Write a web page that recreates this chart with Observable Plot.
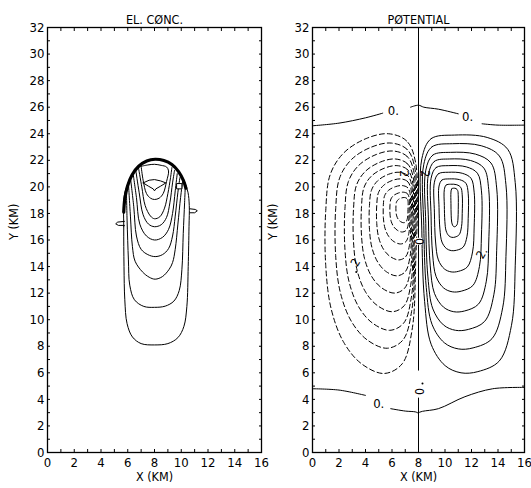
<!DOCTYPE html>
<html><head><meta charset="utf-8">
<script src="https://cdn.jsdelivr.net/npm/d3@7"></script>
<script src="https://cdn.jsdelivr.net/npm/@observablehq/plot@0.6"></script>
<style>
body{margin:0;background:#fff;}
#wrap{position:relative;width:531px;height:488px;overflow:hidden;}
#left,#right{position:absolute;top:0;}
#left{left:0;z-index:2;} #right{left:266px;}
svg{overflow:visible;}
</style></head><body><div id="wrap"><div id="left"></div><div id="right"></div></div>
<script>
// ---------- axis ticks ----------
const xTickLabels = [0,2,4,6,8,10,12,14,16];
const yTickLabels = [0,2,4,6,8,10,12,14,16,18,20,22,24,26,28,30,32];
const xMinor = [0,1,2,3,4,5,6,7,8,9,10,11,12,13,14,15,16];
const yMinor = [0,1,2,3,4,5,6,7,8,9,10,11,12,13,14,15,16,17,18,19,20,21,22,23,24,25,26,27,28,29,30,31,32];
const titles = ["EL. CØNC.", "PØTENTIAL"];
const xLabel = "X (KM)";
const yLabel = "Y (KM)";

// ---------- left panel: electron concentration contours (x,y in km) ----------
const elOuter = [[5.72,19.2],[5.7,17],[5.72,14],[5.78,11.5],[5.95,9.7],[6.35,8.7],[7.0,8.2],[8.0,8.1],[9.0,8.2],[9.75,8.65],[10.2,9.5],[10.42,11],[10.52,14],[10.58,17],[10.6,18.6],[10.5,19.6],[10.2,20.5],[9.8,21.2],[9.3,21.7],[8.7,22.0],[8.05,22.08],[7.4,21.95],[6.8,21.55],[6.3,20.9],[5.95,20.1]];
const elArc = [[5.7,18.1],[5.78,19.1],[5.98,20.05],[6.32,20.9],[6.82,21.55],[7.42,21.95],[8.05,22.08],[8.7,21.98],[9.3,21.68],[9.8,21.15],[10.15,20.5],[10.35,19.9]];
const elC2 = [[5.9,19.8],[5.95,17.5],[6.05,14.5],[6.15,12.6],[6.5,11.5],[7.2,11.0],[8.0,10.93],[8.8,11.02],[9.45,11.4],[9.85,12.2],[10.05,13.8],[10.15,16.5],[10.25,18.8],[10.3,20.0]];
const elC3 = [[6.05,20.3],[6.2,17.8],[6.35,15.5],[6.55,14.4],[7.1,13.6],[7.6,13.2],[8.05,13.05],[8.6,13.25],[9.1,13.8],[9.35,14.3],[9.55,15.3],[9.75,17.2],[9.95,19.2],[10.1,20.4]];
const elC4 = [[6.2,20.7],[6.45,18.5],[6.65,16.3],[7.0,15.3],[7.5,14.9],[8.05,14.75],[8.6,14.9],[9.05,15.35],[9.35,16.3],[9.55,17.8],[9.75,19.6],[9.9,20.7]];
const elC5 = [[6.4,21.0],[6.65,19.2],[6.9,17.2],[7.4,16.3],[8.0,16.0],[8.6,16.2],[9.05,16.8],[9.35,18.0],[9.55,19.7],[9.7,21.0]];
const elC6 = [[6.6,21.25],[6.85,19.6],[7.15,17.9],[7.55,17.2],[8.0,17.0],[8.5,17.15],[8.9,17.7],[9.15,18.8],[9.35,20.3],[9.5,21.25]];
const elC7 = [[6.8,21.45],[7.05,20.0],[7.3,18.6],[7.7,17.8],[8.0,17.6],[8.4,17.75],[8.75,18.4],[9.0,19.5],[9.2,20.7],[9.3,21.45]];
const elC8 = [[7.0,21.55],[7.15,20.5],[7.4,19.5],[7.7,19.15],[8.0,19.05],[8.35,19.15],[8.65,19.5],[8.9,20.4],[9.05,21.2],[8.9,21.5],[8.5,21.62],[8.0,21.7],[7.5,21.65],[7.0,21.55]];
const elCap = [[7.15,20.3],[7.6,20.5],[8.0,20.55],[8.45,20.45],[8.85,20.3],[8.45,20.05],[8.1,19.85],[8.0,19.7],[7.9,19.85],[7.55,20.05],[7.15,20.3]];
const elTagL = [[5.75,17.4],[5.25,17.35],[5.1,17.22],[5.3,17.1],[5.75,17.1]];
const elTagR = [[10.65,18.35],[11.05,18.3],[11.2,18.2],[11.0,18.05],[10.65,18.05]];
const elBox = [[9.85,20.05]];

// ---------- right panel: potential ----------
// zero contours
const zeroVertical = [[[8,32],[8,6.2]],[[8,4.1],[8,0]]];
const zeroTopLeft = [[0,24.6],[2,24.8],[4,25.2],[5.3,25.55]];
const zeroTopMid = [[7.4,26.0],[8.0,26.15],[8.4,26.0],[9.5,25.85],[11.0,25.5]];
const zeroTopRight = [[12.8,24.75],[14,24.65],[16,24.65]];
const zeroBotLeft = [[0,4.8],[2,4.7],[4.0,4.3]];
const zeroBotMid = [[5.9,3.3],[7.0,3.12],[7.8,3.05],[8.0,2.95]];
const zeroBotRight = [[8.0,3.0],[8.3,3.1],[9.5,3.3],[11.5,4.2],[13.6,4.8],[16,4.9]];
// positive (solid) closed contours: extents
const posLeft   = [8.25, 8.4, 8.55, 8.75, 8.95, 9.2, 9.55, 9.95, 10.45];
const posRight  = [15.3, 14.6, 13.9, 13.3, 12.75, 12.2, 11.75, 11.3, 11.0];
const posTop    = [23.9, 23.25, 22.6, 22.1, 21.6, 21.1, 20.6, 20.2, 19.9];
const posBottom = [6.0, 7.8, 9.2, 10.6, 12.1, 13.6, 15.2, 16.2, 17.0];
// negative (dashed) closed contours
const negLeft   = [1.0, 1.75, 2.45, 3.1, 3.7, 4.3, 4.85, 5.35, 5.85, 6.3];
const negRight  = [7.78, 7.72, 7.66, 7.6, 7.54, 7.48, 7.42, 7.35, 7.28, 7.2];
const negTop    = [24.0, 23.3, 22.7, 22.1, 21.6, 21.1, 20.6, 20.1, 19.6, 19.2];
const negBottom = [5.95, 7.85, 9.2, 10.6, 12.0, 13.3, 14.5, 15.7, 16.6, 17.3];
// contour outline shapes (u across left..right, v across bottom..top)
const posShape = [[0,0.90],[0.1,0.985],[0.35,1.0],[0.7,0.99],[0.92,0.94],[1.0,0.8],[1.0,0.45],[0.96,0.2],[0.83,0.05],[0.6,0.005],[0.42,0.0],[0.25,0.03],[0.1,0.12],[0.03,0.3],[0.0,0.6]];
const negShape = [[1.0,0.88],[0.9,0.97],[0.7,1.0],[0.45,0.98],[0.2,0.92],[0.05,0.83],[0.0,0.68],[0.0,0.45],[0.06,0.27],[0.2,0.13],[0.4,0.04],[0.65,0.0],[0.85,0.04],[0.96,0.18],[1.0,0.45]];
// contour labels
const zeroLabels = [{x:6.1,y:25.75,t:"0."},{x:11.7,y:25.25,t:"0."},{x:5.0,y:3.7,t:"0."}];
const twoLabels = [{x:6.9,y:21.0,t:"2",r:90},{x:3.25,y:14.3,t:"2",r:-60},{x:8.45,y:21.0,t:"2",r:90},{x:12.8,y:15.0,t:"2.",r:-60}];
const zeroOvals = [[8.0,15.9],[8.0,4.6]];
const dots = [[8.3,5.2],[3.3,13.6]];

// ---------- helpers ----------
const FONT = "'DejaVu Sans Condensed','DejaVu Sans',sans-serif";
const toRows = (pts, id) => pts.map(([x,y]) => ({x, y, id}));
function loops(shape, L, R, T, B, tag) {
  const rows = [];
  L.forEach((l, i) => shape.forEach(([u,v]) => rows.push({x: l + u*(R[i]-l), y: B[i] + v*(T[i]-B[i]), id: tag + i})));
  return rows;
}
function axes() {
  return [
    Plot.frame({stroke:"#000", strokeWidth:1.3}),
    Plot.axisX(xMinor, {anchor:"bottom", tickSize:3, dy:-3, tickFormat:() => "", label:null}),
    Plot.axisX(xMinor, {anchor:"top", tickSize:3, dy:3, tickFormat:() => "", label:null}),
    Plot.axisY(yMinor, {anchor:"left", tickSize:3, dx:3, tickFormat:() => "", label:null}),
    Plot.axisY(yMinor, {anchor:"right", tickSize:3, dx:-3, tickFormat:() => "", label:null}),
    Plot.axisX(xTickLabels, {anchor:"bottom", tickSize:0, tickPadding:5, label:null, fontSize:13}),
    Plot.axisY(yTickLabels, {anchor:"left", tickSize:0, tickPadding:3, label:null, fontSize:13})
  ];
}
function base(width, ml, mr, marks) {
  return Plot.plot({
    width, height:488, marginLeft:ml, marginRight:mr, marginTop:27, marginBottom:36,
    x:{domain:[0,16], axis:null}, y:{domain:[0,32], axis:null},
    style:{fontFamily:FONT, fontSize:"13px", color:"#000", background:"transparent", overflow:"visible"},
    marks
  });
}

// ---------- left panel ----------
const leftLines = [elC2, elC3, elC4, elC5, elC6, elC7].flatMap((c, i) => toRows(c, "c" + i));
const left = base(266, 47, 5, [
  ...axes(),
  Plot.line(toRows(elOuter, "outer"), {x:"x", y:"y", curve:"catmull-rom-closed", stroke:"#000", strokeWidth:1}),
  Plot.line(toRows(elArc, "arc"), {x:"x", y:"y", curve:"catmull-rom", stroke:"#000", strokeWidth:3.2}),
  Plot.line(leftLines, {x:"x", y:"y", z:"id", curve:"catmull-rom", stroke:"#000", strokeWidth:1}),
  Plot.line(toRows(elC8, "c8"), {x:"x", y:"y", curve:"catmull-rom", stroke:"#000", strokeWidth:1}),
  Plot.line(toRows(elCap, "cap"), {x:"x", y:"y", curve:"linear", stroke:"#000", strokeWidth:1}),
  Plot.line([...toRows(elTagL, "tl"), ...toRows(elTagR, "tr")], {x:"x", y:"y", z:"id", stroke:"#000", strokeWidth:1}),
  Plot.dot(elBox, {x:d => d[0], y:d => d[1], symbol:"square", r:3, stroke:"#000", fill:"#fff", strokeWidth:1}),
  Plot.text([titles[0]], {frameAnchor:"top", dy:-12, fontSize:12.5, fill:"#000"}),
  Plot.text([xLabel], {frameAnchor:"bottom", dy:28, fontSize:12.5, fill:"#000"}),
  Plot.text([yLabel], {frameAnchor:"left", dx:-34, rotate:-90, fontSize:12.5, fill:"#000"})
]);
document.getElementById("left").appendChild(left);

// ---------- right panel ----------
const zeroLines = [
  ...zeroVertical.flatMap((s, i) => toRows(s, "v" + i)),
  ...toRows(zeroTopLeft, "tl"), ...toRows(zeroTopMid, "tm"), ...toRows(zeroTopRight, "tr"),
  ...toRows(zeroBotLeft, "bl"), ...toRows(zeroBotMid, "bm"), ...toRows(zeroBotRight, "br")
];
const right = base(265, 46, 7, [
  ...axes(),
  Plot.line(loops(negShape, negLeft, negRight, negTop, negBottom, "n"), {x:"x", y:"y", z:"id", curve:"catmull-rom-closed", stroke:"#000", strokeWidth:1, strokeDasharray:"5,3"}),
  Plot.line(loops(posShape, posLeft, posRight, posTop, posBottom, "p"), {x:"x", y:"y", z:"id", curve:"catmull-rom-closed", stroke:"#000", strokeWidth:1}),
  Plot.line(zeroLines, {x:"x", y:"y", z:"id", curve:"catmull-rom", stroke:"#000", strokeWidth:1}),
  Plot.dot(zeroOvals, {x:d => d[0], y:d => d[1], symbol:"square", r:4, fill:"#fff", stroke:null}),
  Plot.text(zeroOvals, {x:d => d[0], y:d => d[1], text:() => "0", rotate:90, fontSize:12, fill:"#000"}),
  Plot.dot(dots, {x:d => d[0], y:d => d[1], r:1, fill:"#000"}),
  Plot.text(zeroLabels, {x:"x", y:"y", text:"t", fontSize:13, fill:"#000"}),
  Plot.text(twoLabels, {x:"x", y:"y", text:"t", rotate:"r", fontSize:12, fill:"#000"}),
  Plot.text([titles[1]], {frameAnchor:"top", dy:-12, fontSize:12.5, fill:"#000"}),
  Plot.text([xLabel], {frameAnchor:"bottom", dy:28, fontSize:12.5, fill:"#000"}),
  Plot.text([yLabel], {frameAnchor:"left", dx:-40, rotate:-90, fontSize:12.5, fill:"#000"})
]);
document.getElementById("right").appendChild(right);
</script>
</body></html>
